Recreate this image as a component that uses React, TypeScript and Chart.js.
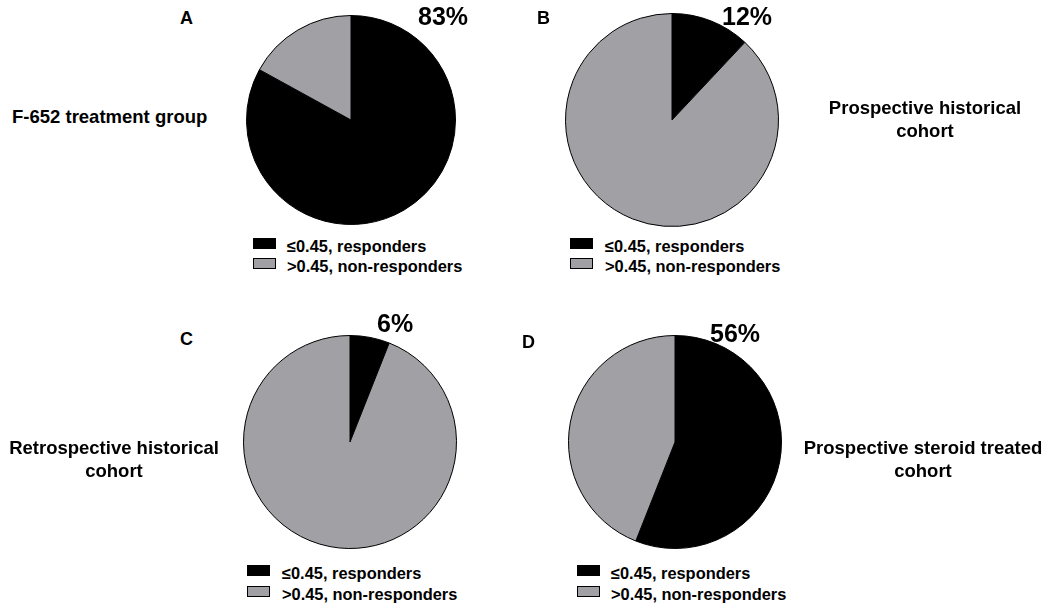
import React, { useEffect, useRef } from "react";
import { Chart, registerables } from "chart.js";

Chart.register(...registerables);

// ---- data ----
const panelLetters = ["A", "B", "C", "D"];
const groupLabels = [
  ["F-652 treatment group"],
  ["Prospective historical", "cohort"],
  ["Retrospective historical", "cohort"],
  ["Prospective steroid treated", "cohort"],
];
const responderPct = [83, 12, 6, 56];
const nonResponderPct = [17, 88, 94, 44];
const percentLabels = ["83%", "12%", "6%", "56%"];
const legendLabels = ["\u22640.45, responders", ">0.45, non-responders"];
const sliceColors = ["#000000", "#a1a1a5"];

// ---- layout ----
const FONT = '"Liberation Sans", Arial, Helvetica, sans-serif';
const pieBoxes = [
  { left: 246, top: 15, size: 210 },
  { left: 565, top: 13, size: 214 },
  { left: 243, top: 335, size: 214 },
  { left: 568, top: 335, size: 214 },
];
const letterPos = [
  { x: 180, y: 9 },
  { x: 537, y: 9 },
  { x: 180, y: 330 },
  { x: 522, y: 333 },
];
const pctPos = [
  { x: 418, y: 4 },
  { x: 722, y: 4 },
  { x: 377, y: 311 },
  { x: 710, y: 321 },
];
const groupPos = [
  { x: 12, top: 106, align: "left" as const },
  { x: 925, top: 97, align: "center" as const },
  { x: 114, top: 437, align: "center" as const },
  { x: 923, top: 437, align: "center" as const },
];
const legendPos = [
  { boxX: 253, textX: 287, base: 251.5 },
  { boxX: 570, textX: 605, base: 251.5 },
  { boxX: 247, textX: 282, base: 579 },
  { boxX: 577, textX: 611, base: 579 },
];

function Pie({ idx }: { idx: number }) {
  const ref = useRef<HTMLCanvasElement | null>(null);
  useEffect(() => {
    if (!ref.current) return;
    const chart = new Chart(ref.current, {
      type: "pie",
      data: {
        labels: legendLabels,
        datasets: [
          {
            data: [responderPct[idx], nonResponderPct[idx]],
            backgroundColor: sliceColors,
            borderColor: "#000000",
            borderWidth: 1,
          },
        ],
      },
      options: {
        responsive: false,
        animation: false,
        devicePixelRatio: 1,
        layout: { padding: 0 },
        plugins: {
          legend: { display: false },
          tooltip: { enabled: false },
        },
      },
    });
    return () => chart.destroy();
  }, [idx]);
  const b = pieBoxes[idx];
  return (
    <canvas
      ref={ref}
      width={b.size}
      height={b.size}
      style={{ position: "absolute", left: b.left, top: b.top, width: b.size, height: b.size }}
    />
  );
}

function Panel({ idx }: { idx: number }) {
  const lp = letterPos[idx];
  const pp = pctPos[idx];
  const gp = groupPos[idx];
  const lg = legendPos[idx];
  const legFs = 16.4;
  const rowGap = 20.5;
  return (
    <>
      <Pie idx={idx} />
      <div
        style={{
          position: "absolute",
          left: lp.x,
          top: lp.y,
          fontSize: 18,
          lineHeight: "18px",
          fontWeight: 700,
          fontFamily: FONT,
          color: "#000",
        }}
      >
        {panelLetters[idx]}
      </div>
      <div
        style={{
          position: "absolute",
          left: pp.x,
          top: pp.y,
          fontSize: 25,
          lineHeight: "25px",
          fontWeight: 700,
          fontFamily: FONT,
          color: "#000",
          whiteSpace: "nowrap",
        }}
      >
        {percentLabels[idx]}
      </div>
      <div
        style={{
          position: "absolute",
          left: gp.align === "center" ? gp.x - 150 : gp.x,
          width: gp.align === "center" ? 300 : undefined,
          top: gp.top,
          textAlign: gp.align,
          fontSize: 18.5,
          lineHeight: "22.5px",
          fontWeight: 700,
          fontFamily: FONT,
          color: "#000",
          whiteSpace: "nowrap",
        }}
      >
        {groupLabels[idx].map((l, i) => (
          <div key={i}>{l}</div>
        ))}
      </div>
      {legendLabels.map((label, i) => {
        const base = lg.base + i * rowGap;
        return (
          <React.Fragment key={i}>
            <div
              style={{
                position: "absolute",
                left: lg.boxX,
                top: base - 14,
                width: 21,
                height: 9,
                background: sliceColors[i],
                border: "1px solid #000",
              }}
            />
            <div
              style={{
                position: "absolute",
                left: lg.textX,
                top: base - legFs * 0.8465,
                fontSize: legFs,
                lineHeight: `${legFs}px`,
                fontWeight: 700,
                fontFamily: FONT,
                color: "#000",
                whiteSpace: "nowrap",
              }}
            >
              {label}
            </div>
          </React.Fragment>
        );
      })}
    </>
  );
}

export default function App() {
  return (
    <div
      style={{
        position: "absolute",
        left: 0,
        top: 0,
        width: 1050,
        height: 606,
        background: "#ffffff",
        overflow: "hidden",
      }}
    >
      {panelLetters.map((_, i) => (
        <Panel key={i} idx={i} />
      ))}
    </div>
  );
}
